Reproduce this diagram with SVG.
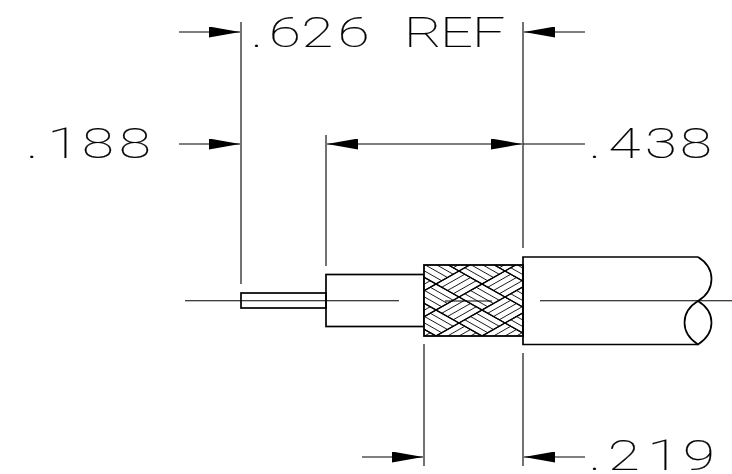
<svg xmlns="http://www.w3.org/2000/svg" width="732" height="474" viewBox="0 0 732 474">
<style>
.ln{fill:none;stroke:#000;stroke-width:1.1}
.ol{fill:none;stroke:#000;stroke-width:1.7}
.ah{fill:#000;stroke:none}
.t{font-family:Roboto,"Liberation Sans",sans-serif;font-weight:100;font-size:40px;fill:#000;stroke:#000;stroke-width:.2}
.h{fill:none;stroke:#000;stroke-width:.9}
.b{fill:none;stroke:#000;stroke-width:1.1}
</style>
<defs>
<marker id="arrow" viewBox="0 0 31 11" refX="31" refY="5.5" markerUnits="userSpaceOnUse" markerWidth="31" markerHeight="11" orient="auto-start-reverse"><path class="ah" d="M0 0L31 5.5L0 11Z"/></marker>
<g id="back"><path class="h" d="M-17.25-3.25L5.75 9.75M-11.5-6.5L11.5 6.5M-5.75-9.75L17.25 3.25"/><path class="b" d="M-23 0L0-13L23 0L0 13Z"/></g>
<pattern id="braid" patternUnits="userSpaceOnUse" x="436" y="271" width="46" height="26">
<rect width="46" height="26" fill="#fff"/>
<use href="#back"/><use href="#back" x="46"/><use href="#back" y="26"/><use href="#back" x="46" y="26"/>
<path class="h" d="M5.75 16.25L28.75 3.25M11.5 19.5L34.5 6.5M17.25 22.75L40.25 9.75"/>
<path class="b" d="M0 13L23 0L46 13L23 26Z"/>
</pattern>
</defs>
<g id="connectors">
<path class="ln" d="M241 22V284M523 22V248M326 135V266M424 344V466M523 353V466"/>
<path class="ln" marker-end="url(#arrow)" d="M179 32H240"/>
<path class="ln" marker-end="url(#arrow)" d="M585 32H524"/>
<path class="ln" marker-end="url(#arrow)" d="M179 144H240"/>
<path class="ln" marker-start="url(#arrow)" marker-end="url(#arrow)" d="M327 144H522"/>
<path class="ln" d="M523 144H585"/>
<path class="ln" marker-end="url(#arrow)" d="M362 457H423"/>
<path class="ln" marker-end="url(#arrow)" d="M585 457H524"/>
</g>
<g id="wire"><rect class="ol" x="241" y="293" width="85" height="15"/></g>
<g id="core"><rect class="ol" x="326" y="274.5" width="98" height="52"/></g>
<g id="braid-layer"><rect x="424" y="265" width="99" height="71" fill="url(#braid)" stroke="#000" stroke-width="1.8"/></g>
<g id="jacket"><path class="ol" d="M698 257H523V344.5H698"/>
<path class="ol" d="M698 257C716 268 716 290 698 301C716 312 716 333 698 344.5C680 333 680 312 698 301"/></g>
<g id="centerline"><path class="ln" d="M185 300.7H399M445 301H492M540 300.7H732"/></g>
<g id="labels">
<text class="t" transform="translate(0 47) scale(1.45 1.04)" x="173 185.5 208 233">.626</text>
<text class="t" transform="translate(0 47) scale(1.45 1.04)" x="278.6 303.4 325.5">REF</text>
<text class="t" transform="translate(0 158) scale(1.45 1.04)" x="18 32.8 56.6 82">.188</text>
<text class="t" transform="translate(0 158) scale(1.45 1.04)" x="406 419.7 444.8 469">.438</text>
<text class="t" transform="translate(0 470) scale(1.45 1.04)" x="406 419.3 446.5 471">.219</text>
</g>
</svg>
